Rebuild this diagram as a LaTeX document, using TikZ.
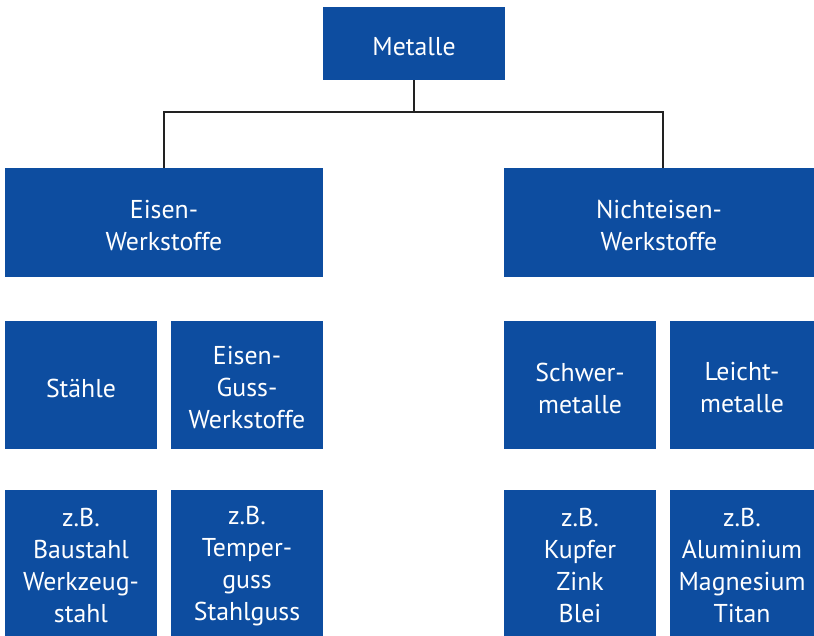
\documentclass[tikz,border=0pt]{standalone}
\usepackage{fontspec}
\setmainfont{PT Sans}
\definecolor{boxblue}{RGB}{13,77,160}
\definecolor{linegray}{RGB}{34,34,34}
\tikzset{
  box/.style={draw=none, fill=boxblue, inner sep=0pt},
  boxtext/.style={text=white, align=center, inner sep=0pt, yshift=-3pt,
    font=\fontsize{25.8}{32}\selectfont},
  conn/.style={draw=linegray, line width=2.4pt}
}
\begin{document}
\begin{tikzpicture}[x=1pt,y=-1pt]
\useasboundingbox (0,0) rectangle (814,636);
\node[box, minimum width=182pt, minimum height=73pt, label={[boxtext]center:Metalle}] (metalle) at (414,43.5) {};
\node[box, minimum width=318pt, minimum height=109pt, label={[boxtext]center:{Eisen-\\Werkstoffe}}] (eisen) at (164,222.5) {};
\node[box, minimum width=310pt, minimum height=109pt, label={[boxtext]center:{Nichteisen-\\Werkstoffe}}] (ne) at (659,222.5) {};
\node[box, minimum width=152pt, minimum height=128pt, label={[boxtext]center:Stähle}] (staehle) at (81,385) {};
\node[box, minimum width=152pt, minimum height=128pt, label={[boxtext]center:{Eisen-\\Guss-\\Werkstoffe}}] (guss) at (247,385) {};
\node[box, minimum width=152pt, minimum height=128pt, label={[boxtext]center:{Schwer-\\metalle}}] (schwer) at (580,385) {};
\node[box, minimum width=144pt, minimum height=128pt, label={[boxtext]center:{Leicht-\\metalle}}] (leicht) at (742,385) {};
\node[box, minimum width=152pt, minimum height=146pt, label={[boxtext]center:{z.B.\\Baustahl\\Werkzeug-\\stahl}}] (bsp1) at (81,563) {};
\node[box, minimum width=152pt, minimum height=146pt, label={[boxtext]center:{z.B.\\Temper-\\guss\\Stahlguss}}] (bsp2) at (247,563) {};
\node[box, minimum width=152pt, minimum height=146pt, label={[boxtext]center:{z.B.\\Kupfer\\Zink\\Blei}}] (bsp3) at (580,563) {};
\node[box, minimum width=144pt, minimum height=146pt, label={[boxtext]center:{z.B.\\Aluminium\\Magnesium\\Titan}}] (bsp4) at (742,563) {};
\coordinate (j) at (414,112);
\draw[conn] (metalle.south) -- (j);
\draw[conn] (j) -| (eisen.north);
\draw[conn] (j) -| ([xshift=4pt]ne.north);
\end{tikzpicture}
\end{document}
